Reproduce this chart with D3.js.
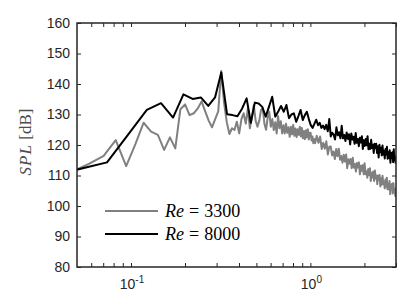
<!DOCTYPE html>
<html><head><meta charset="utf-8">
<script src="https://cdn.jsdelivr.net/npm/d3@7/dist/d3.min.js"></script>
<style>
html,body{margin:0;padding:0;background:#fff;}
svg{display:block;}
</style></head>
<body><svg id="c" width="407" height="305"></svg>
<script>
// ---- data ----
const seriesNames = ["Re = 3300", "Re = 8000"];
const yTicks = [80, 90, 100, 110, 120, 130, 140, 150, 160];
const xMajorTicks = [0.1, 1];
const xMajorLabels = [["10", "-1"], ["10", "0"]];
const xMinorTicks = [0.06, 0.07, 0.08, 0.09, 0.2, 0.3, 0.4, 0.5, 0.6, 0.7, 0.8, 0.9, 2, 3];

// Re = 3300 (gray)
const stGray = [0.0468,0.0586,0.0704,0.0822,0.094,0.1058,0.1176,0.1294,0.1412,0.153,
0.1648,0.1766,0.1884,0.2002,0.212,0.2238,0.2356,0.2474,0.2592,0.271,
0.2828,0.2946,0.3064,0.3182,0.33,0.3418,0.3536,0.3654,0.3772,0.389,
0.4008,0.4126,0.4244,0.4362,0.448,0.4598,0.4716,0.4834,0.4952,0.507,
0.5188,0.5306,0.5424,0.5542,0.566,0.5778,0.5896,0.6014,0.6132,0.625,
0.6368,0.6486,0.6604,0.6722,0.684,0.6958,0.7076,0.7194,0.7312,0.743,
0.7548,0.7666,0.7784,0.7902,0.802,0.8138,0.8256,0.8374,0.8492,0.861,
0.8728,0.8846,0.8964,0.9082,0.92,0.9318,0.9436,0.9554,0.9672,0.979,
0.9908,1.0026,1.0144,1.0262,1.038,1.0498,
1.0616,1.0852,1.1088,1.1324,1.156,1.1796,1.2032,1.2268,1.2504,1.274,
1.2976,1.3212,1.3448,1.3684,1.392,1.4156,1.4392,1.4628,1.4864,1.51,
1.5336,1.5572,1.5808,1.6044,1.628,1.6516,1.6752,1.6988,1.7224,1.746,
1.7696,1.7932,1.8168,1.8404,1.864,1.8876,1.9112,1.9348,1.9584,1.982,
2.0056,2.0292,2.0528,2.0764,2.1,2.1236,2.1472,2.1708,2.1944,2.218,
2.2416,2.2652,2.2888,2.3124,2.336,2.3596,2.3832,2.4068,2.4304,2.454,
2.4776,2.5012,2.5248,2.5484,2.572,2.5956,2.6192,2.6428,2.6664,2.69,
2.7136,2.7372,2.7608,2.7844,2.808,2.8316,2.8552,2.8788,2.9024,2.926,
2.9496,2.9732,2.9968];
const splGray = [111.2,113.9,116.4,121.6,113.1,120.3,127.3,124.4,123.3,118.4,
122.5,118.9,131.7,133.3,129.8,130.4,132.0,134.3,131.0,128.0,
125.8,128.5,131.0,144.3,134.0,127.5,123.6,125.5,124.9,127.6,
123.8,128.5,130.4,127.0,132.0,125.5,129.0,133.1,128.0,126.0,
128.0,131.5,132.0,127.0,125.0,129.0,130.9,126.0,128.5,124.9,
127.5,123.8,129.5,125.5,127.8,123.8,126.5,123.8,127.0,124.0,
125.8,122.7,126.0,123.5,126.6,123.0,125.4,122.6,125.2,123.3,
126.0,122.8,125.6,122.2,124.6,121.9,124.8,122.5,125.2,121.8,
124.0,124.0,121.5,122.8,120.6,122.0,
120.6,123.0,120.7,122.8,118.7,120.7,118.8,121.2,116.9,119.4,
119.5,116.6,117.9,115.4,118.7,116.3,118.8,115.2,116.4,114.2,
116.8,114.6,116.9,112.4,115.3,113.9,115.4,112.4,115.8,112.6,
113.8,111.3,114.1,112.6,114.3,110.4,113.2,111.5,113.4,110.4,
114.0,110.4,111.4,109.3,112.1,110.2,112.4,108.2,110.9,109.3,
111.3,108.2,111.6,109.0,109.9,107.2,110.0,108.5,110.2,106.4,
109.1,107.0,109.9,107.2,108.0,105.8,108.7,106.3,109.3,105.5,
107.3,105.5,108.2,103.9,107.0,105.8,107.3,104.1,107.5,104.7,
105.6,103.3,106.0];

// Re = 8000 (black)
const stBlack = [0.049,0.0735,0.098,0.1225,0.147,0.1715,0.196,0.2205,0.245,0.2695,
0.294,0.3185,0.343,0.3675,0.392,0.4165,0.441,0.4655,0.49,0.5145,
0.539,0.5635,0.588,0.6125,0.637,0.6615,0.686,0.7105,0.735,0.7595,
0.784,0.8085,0.833,0.8575,0.882,0.9065,0.931,0.9555,0.98,1.0045,
1.029,1.0535,1.078,1.1025,1.127,1.1515,1.176,1.2005,1.225,1.2495,
1.274,1.2985,1.323,1.3475,1.372,1.3965,1.421,1.4455,1.47,1.4945,
1.519,1.5435,1.568,1.5925,1.617,1.6415,1.666,1.6905,1.715,1.7395,
1.764,1.7885,1.813,1.8375,1.862,1.8865,1.911,1.9355,1.96,1.9845,
2.009,2.0335,2.058,2.0825,2.107,2.1315,2.156,2.1805,2.205,2.2295,
2.254,2.2785,2.303,2.3275,2.352,2.3765,2.401,2.4255,2.45,2.4745,
2.499,2.5235,2.548,2.5725,2.597,2.6215,2.646,2.6705,2.695,2.7195,
2.744,2.7685,2.793,2.8175,2.842,2.8665,2.891,2.9155,2.94,2.9645,
2.989];
const splBlack = [111.8,114.3,124.0,131.5,133.7,129.0,136.6,135.1,135.6,132.8,
135.6,143.8,130.1,129.8,129.4,132.0,135.3,127.3,133.9,133.6,
132.5,129.3,132.6,135.8,129.3,131.0,132.8,130.9,133.1,128.8,
130.0,130.4,127.6,129.5,131.5,128.2,129.8,130.9,128.5,126.5,
125.6,127.0,128.3,126.5,127.3,125.6,126.4,125.2,126.6,124.5,
128.5,122.8,124.0,123.4,121.8,125.8,123.2,124.2,122.2,126.3,
122.2,123.3,121.3,124.1,122.0,123.5,120.2,123.8,121.8,122.7,
120.4,123.9,120.7,122.0,119.6,122.4,120.8,122.9,118.7,121.6,
119.7,122.0,119.9,122.9,118.6,120.4,118.7,121.7,119.0,120.1,
117.4,120.4,118.9,120.4,117.4,119.6,115.9,120.1,117.7,119.1,
116.6,119.8,116.9,118.0,115.6,118.7,116.9,119.4,115.5,117.6,
115.7,118.3,114.2,117.4,115.8,117.6,114.4,118.6,114.9,116.3,
113.9];

// ---- chart ----
const m = {l: 77, r: 396, t: 23, b: 267};
const svg = d3.select("#c");
const x = d3.scaleLog().domain([0.05, 3]).range([m.l, m.r]);
const y = d3.scaleLinear().domain([80, 160]).range([m.b, m.t]);
const axisColor = "#262626";
const sans = "'Liberation Sans', Arial, Helvetica, sans-serif";
const serif = "'Liberation Serif', 'Times New Roman', serif";

svg.append("defs").append("clipPath").attr("id", "clip")
  .append("rect").attr("x", m.l).attr("y", m.t).attr("width", m.r - m.l).attr("height", m.b - m.t);

const line = d3.line().x(d => x(d[0])).y(d => y(d[1]));
const gray = stGray.map((s, i) => [s, splGray[i]]);
const black = stBlack.map((s, i) => [s, splBlack[i]]);
const colors = ["#808080", "#000000"];

const plot = svg.append("g").attr("clip-path", "url(#clip)");
[gray, black].forEach((d, i) => {
  plot.append("path").datum(d).attr("d", line)
    .attr("fill", "none").attr("stroke", colors[i])
    .attr("stroke-width", 2).attr("stroke-linejoin", "round");
});

// axes (ticks inward, box)
const allX = xMajorTicks.concat(xMinorTicks);
const tickLen = 4;
const gB = svg.append("g").attr("transform", `translate(0,${m.b})`)
  .call(d3.axisBottom(x).tickValues(allX).tickSize(-tickLen).tickFormat(""));
const gT = svg.append("g").attr("transform", `translate(0,${m.t})`)
  .call(d3.axisTop(x).tickValues(allX).tickSize(-tickLen).tickFormat(""));
const gL = svg.append("g").attr("transform", `translate(${m.l},0)`)
  .call(d3.axisLeft(y).tickValues(yTicks).tickSize(-tickLen).tickPadding(7).tickFormat(d3.format("d")));
const gR = svg.append("g").attr("transform", `translate(${m.r},0)`)
  .call(d3.axisRight(y).tickValues(yTicks).tickSize(-tickLen).tickFormat(""));
[gB, gT, gL, gR].forEach(g => {
  g.select(".domain").remove();
  g.selectAll(".tick line").attr("stroke", axisColor).attr("stroke-width", 1);
});
gL.selectAll(".tick text").attr("fill", axisColor)
  .style("font-family", sans).style("font-size", "14px");

svg.append("rect").attr("x", m.l).attr("y", m.t)
  .attr("width", m.r - m.l).attr("height", m.b - m.t)
  .attr("fill", "none").attr("stroke", axisColor).attr("stroke-width", 1.5);

// x tick labels with superscripts
xMajorTicks.forEach((v, i) => {
  const t = svg.append("text").attr("x", x(v) + 1).attr("y", 289)
    .attr("text-anchor", "middle").attr("fill", axisColor)
    .style("font-family", sans).style("font-size", "14px");
  t.append("tspan").text(xMajorLabels[i][0]);
  t.append("tspan").attr("dy", -6).style("font-size", "10px").text(xMajorLabels[i][1]);
});

// y label
const yl = svg.append("text")
  .attr("transform", `translate(31,${(m.t + m.b) / 2 - 3}) rotate(-90)`)
  .attr("text-anchor", "middle").attr("fill", "#4d4d4d")
  .style("font-family", serif).style("font-size", "17px");
yl.append("tspan").style("font-style", "italic").style("letter-spacing", "1px").text("SPL");
yl.append("tspan").text(" [dB]");

// legend
const legY = [211, 234];
seriesNames.forEach((name, i) => {
  svg.append("line").attr("x1", 105).attr("x2", 158)
    .attr("y1", legY[i]).attr("y2", legY[i])
    .attr("stroke", colors[i]).attr("stroke-width", 2);
  const parts = name.split(" = ");
  const t = svg.append("text").attr("x", 165).attr("y", legY[i] + 6)
    .attr("fill", "#000").style("font-family", serif).style("font-size", "18px");
  t.append("tspan").style("font-style", "italic").text(parts[0]);
  t.append("tspan").attr("dx", 5).text("=");
  t.append("tspan").attr("dx", 5).text(parts[1]);
});
</script>
</body></html>
